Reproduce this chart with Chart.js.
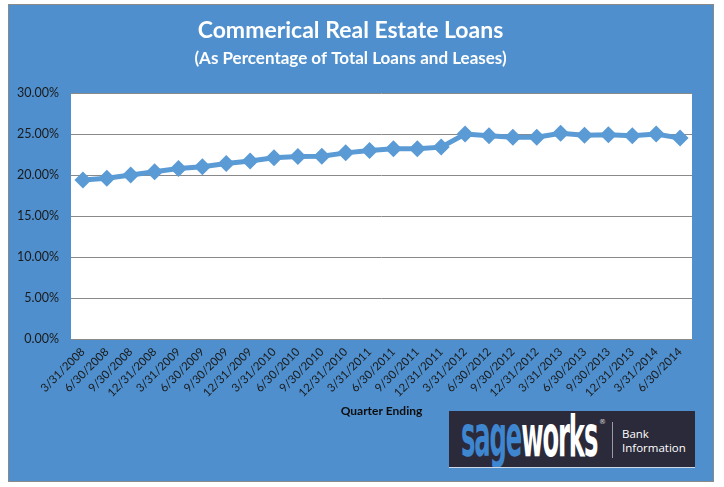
<!DOCTYPE html>
<html>
<head>
<meta charset="utf-8">
<script src="https://cdn.jsdelivr.net/npm/chart.js@4.4.1/dist/chart.umd.min.js"></script>
<style>
  html, body { margin: 0; padding: 0; background: #fff; width: 724px; height: 487px; overflow: hidden; }
  #frame {
    position: absolute; left: 9px; top: 5px; width: 704px; height: 476px;
    background: #4f8fcd; box-shadow: 0 0 0 1px #8a8a8a;
  }
  #logo {
    position: absolute; left: 449px; top: 411px; width: 246px; height: 56px;
    background: #2b2a3a; border-bottom: 1px solid #cfd8e6; overflow: hidden;
  }
  #brand {
    position: absolute; left: 12px; top: -4px; white-space: nowrap; line-height: 48px;
    font-family: "DejaVu Sans Condensed", "DejaVu Sans", sans-serif; font-weight: bold;
    font-size: 48px; letter-spacing: -2px; transform-origin: 0 0;
  }
  #brand .s { color: #3f86d0; }
  #brand .w { color: #fff; }
  #reg { position: absolute; left: 150px; top: 7px; color: #ddd; font: 7px "DejaVu Sans", sans-serif; }
  #sep { position: absolute; left: 163px; top: 11px; width: 1px; height: 36px; background: #9a9aa6; }
  #bankinfo {
    position: absolute; left: 173px; top: 16px; color: #fff;
    font: 11.5px "Open Sans", sans-serif; line-height: 14px;
  }
</style>
</head>
<body>
<div id="frame"><canvas id="myChart" width="704" height="476"></canvas></div>
<div id="logo">
  <div id="brand"><span class="s">sage</span><span class="w">works</span></div>
  <div id="reg">®</div>
  <div id="sep"></div>
  <div id="bankinfo">Bank<br>Information</div>
</div>
<script>
const quarters = [
  '3/31/2008', '6/30/2008', '9/30/2008', '12/31/2008',
  '3/31/2009', '6/30/2009', '9/30/2009', '12/31/2009',
  '3/31/2010', '6/30/2010', '9/30/2010', '12/31/2010',
  '3/31/2011', '6/30/2011', '9/30/2011', '12/31/2011',
  '3/31/2012', '6/30/2012', '9/30/2012', '12/31/2012',
  '3/31/2013', '6/30/2013', '9/30/2013', '12/31/2013',
  '3/31/2014', '6/30/2014'
];
const creShare = [
  19.4, 19.6, 20.0, 20.4,
  20.8, 21.0, 21.4, 21.7,
  22.1, 22.25, 22.3, 22.7,
  23.0, 23.2, 23.2, 23.4,
  25.0, 24.8, 24.6, 24.6,
  25.1, 24.85, 24.9, 24.8,
  25.0, 24.5
];
const yTicks = [0, 5, 10, 15, 20, 25, 30];

// squeeze the logo word into its box, and stretch it up
const brand = document.getElementById('brand');
brand.style.transform = 'scale(' + (136 / brand.offsetWidth).toFixed(3) + ', 1.2)';

// white plot area
const plotBg = {
  id: 'plotBg',
  beforeDraw(chart) {
    const {ctx, chartArea: a} = chart;
    ctx.save();
    ctx.fillStyle = '#ffffff';
    ctx.fillRect(a.left, a.top, a.right - a.left, a.bottom - a.top);
    ctx.restore();
  }
};

const ctx = document.getElementById('myChart');

new Chart(ctx, {
  type: 'line',
  data: {
    labels: quarters,
    datasets: [{
      data: creShare,
      borderColor: '#5b9bd5',
      backgroundColor: '#5b9bd5',
      borderWidth: 5,
      pointStyle: 'rectRot',
      pointRadius: 8.5,
      pointBorderWidth: 0,
      tension: 0
    }]
  },
  options: {
    responsive: false,
    animation: false,
    layout: { padding: { left: 0, right: 21, top: 0, bottom: 0 } },
    scales: {
      x: {
        offset: true,
        grid: { display: false, drawTicks: false },
        border: { color: '#898989', width: 1 },
        ticks: {
          color: '#1a1a1a',
          font: { family: 'Lato', size: 11.5 },
          minRotation: 45,
          maxRotation: 45,
          autoSkip: false,
          padding: 6
        },
        title: {
          display: true,
          text: 'Quarter Ending',
          color: '#0d0d0d',
          font: { family: 'Lato', size: 12, weight: 'bold' },
          padding: { top: 0, bottom: 63 }
        },
        afterFit(scale) { scale.height = 142; }
      },
      y: {
        min: 0,
        max: 30,
        afterBuildTicks(scale) { scale.ticks = yTicks.map(v => ({ value: v })); },
        grid: { color: '#898989', lineWidth: 1, drawTicks: false },
        border: { display: false },
        ticks: {
          color: '#1a1a1a',
          font: { family: 'Lato', size: 12.5 },
          padding: 12,
          callback: v => v.toFixed(2) + '%'
        },
        afterFit(scale) { scale.width = 62; }
      }
    },
    plugins: {
      legend: { display: false },
      tooltip: { enabled: false },
      title: {
        display: true,
        text: 'Commerical Real Estate Loans',
        color: '#ffffff',
        font: { family: 'Lato', size: 23, weight: 'bold' },
        padding: { top: 12, bottom: 2 }
      },
      subtitle: {
        display: true,
        text: '(As Percentage of Total Loans and Leases)',
        color: '#ffffff',
        font: { family: 'Lato', size: 17, weight: 'bold' },
        padding: { top: 2, bottom: 24 }
      }
    }
  },
  plugins: [plotBg]
});
</script>
</body>
</html>
